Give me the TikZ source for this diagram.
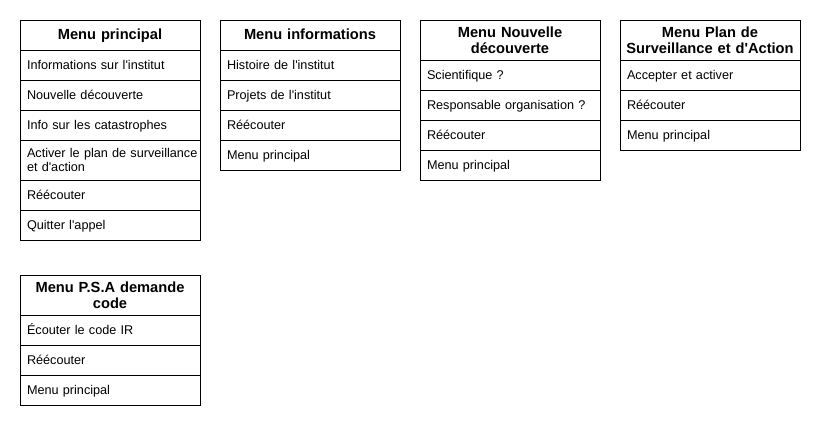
\documentclass[tikz,border=0pt]{standalone}
\usepackage{fontspec}
\setmainfont{Liberation Sans}[Ligatures=TeXOff]
\usetikzlibrary{positioning}

\begin{document}
\begin{tikzpicture}[x=0.75pt, y=-0.75pt, node distance=0pt,
    head/.style={draw, rectangle, line width=0.75pt, outer sep=0pt, anchor=north west,
        minimum width=135pt, minimum height=22.5pt, text width=130pt, inner xsep=2.5pt,
        align=center, font=\bfseries\fontsize{11}{12}\selectfont},
    item/.style={draw, rectangle, line width=0.75pt, outer sep=0pt,
        minimum width=135pt, minimum height=22.5pt, text width=124.5pt, inner xsep=5.25pt,
        text height=8pt, text depth=1.5pt,
        align=left, font=\fontsize{9.5}{11}\selectfont}]
    \useasboundingbox (0,0) rectangle (821,426);

    % Menu principal
    \node[head, text height=9pt, text depth=2pt] (mp) at (20,20) {Menu principal};
    \node[item, below=of mp] (mp1) {Informations sur l'institut};
    \node[item, below=of mp1] (mp2) {Nouvelle découverte};
    \node[item, below=of mp2] (mp3) {Info sur les catastrophes};
    \node[item, below=of mp3, minimum height=30pt, text depth=12.5pt] (mp4) {\mbox{Activer le plan de surveillance}\\et d'action};
    \node[item, below=of mp4] (mp5) {Réécouter};
    \node[item, below=of mp5] (mp6) {Quitter l'appel};

    % Menu informations
    \node[head, text height=9pt, text depth=2pt] (mi) at (220,20) {Menu informations};
    \node[item, below=of mi] (mi1) {Histoire de l'institut};
    \node[item, below=of mi1] (mi2) {Projets de l'institut};
    \node[item, below=of mi2] (mi3) {Réécouter};
    \node[item, below=of mi3] (mi4) {Menu principal};

    % Menu Nouvelle decouverte
    \node[head, minimum height=30pt] (mn) at (420,20) {Menu Nouvelle\\découverte};
    \node[item, below=of mn] (mn1) {Scientifique ?};
    \node[item, below=of mn1] (mn2) {Responsable organisation ?};
    \node[item, below=of mn2] (mn3) {Réécouter};
    \node[item, below=of mn3] (mn4) {Menu principal};

    % Menu Plan de Surveillance et d'Action
    \node[head, minimum height=30pt] (psa) at (620,20) {Menu Plan de\\Surveillance et d'Action};
    \node[item, below=of psa] (psa1) {Accepter et activer};
    \node[item, below=of psa1] (psa2) {Réécouter};
    \node[item, below=of psa2] (psa3) {Menu principal};

    % Menu P.S.A demande code
    \node[head, minimum height=30pt] (code) at (20,275) {Menu P.S.A demande\\code};
    \node[item, below=of code] (code1) {Écouter le code IR};
    \node[item, below=of code1] (code2) {Réécouter};
    \node[item, below=of code2] (code3) {Menu principal};
\end{tikzpicture}
\end{document}
